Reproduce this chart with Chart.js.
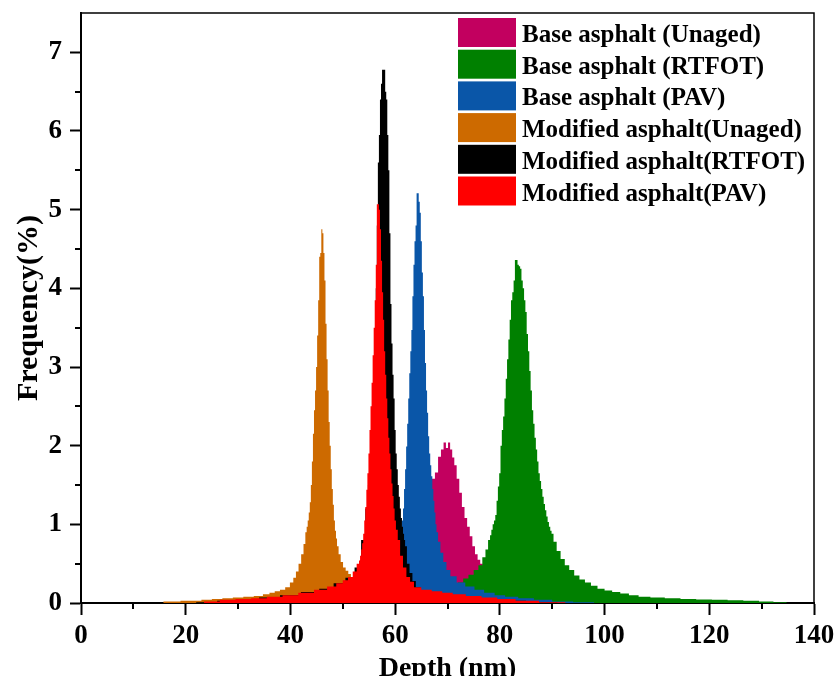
<!DOCTYPE html>
<html>
<head>
<meta charset="utf-8">
<title>Depth distribution</title>
<script src="https://cdn.jsdelivr.net/npm/chart.js@4.4.1/dist/chart.umd.min.js"></script>
<style>
  html, body { margin: 0; padding: 0; background: #fff; }
  #wrap { width: 835px; height: 676px; }
</style>
</head>
<body>
<div id="wrap"><canvas id="depthChart" width="835" height="676"></canvas></div>
<script>
// Histogram values: bin centre depth (nm) -> frequency (%)
const baseUnagedDepth = [58, 60, 62, 63.5, 65, 66, 66.7, 67.3, 67.9, 68.5, 69.0, 69.5, 69.9, 70.3, 70.7, 71.1, 71.5, 72.0, 72.5, 73.0, 73.5, 74.0, 74.5, 75.0, 75.5, 76.0, 76.5, 77, 78, 79, 80, 82, 85, 88];
const baseUnagedFreq  = [0.05, 0.12, 0.3, 0.55, 0.9, 1.2, 1.45, 1.58, 1.66, 1.86, 1.95, 2.04, 1.97, 2.04, 1.95, 1.85, 1.75, 1.58, 1.4, 1.22, 1.08, 0.97, 0.85, 0.72, 0.62, 0.55, 0.5, 0.42, 0.33, 0.26, 0.2, 0.14, 0.08, 0.04];

const baseRtfotDepth = [60, 65, 68, 70, 71.5, 72.5, 73.5, 74.5, 75.5, 76.3, 77.0, 77.5, 78.0, 78.25, 78.5, 78.75, 79.0, 79.25, 79.5, 79.75, 80.0, 80.25, 80.5, 80.75, 81.0, 81.25, 81.5, 81.75, 82.0, 82.25, 82.5, 82.75, 83.0, 83.25, 83.5, 83.75, 84.0, 84.25, 84.5, 84.75, 85.0, 85.25, 85.5, 85.75, 86.0, 86.25, 86.5, 86.75, 87.0, 87.25, 87.5, 87.75, 88.0, 88.25, 88.5, 88.75, 89.0, 89.25, 89.5, 89.75, 90.0, 90.5, 91.2, 92.0, 92.8, 93.7, 94.7, 95.7, 96.8, 98, 99.3, 100.7, 102.2, 103.8, 105.5, 107.5, 110, 113, 116, 119, 122, 125, 128, 131, 133.5];
const baseRtfotFreq  = [0.02, 0.05, 0.1, 0.15, 0.2, 0.26, 0.31, 0.36, 0.42, 0.48, 0.58, 0.68, 0.8, 0.86, 0.93, 1.0, 1.05, 1.12, 1.3, 1.48, 1.65, 2.0, 2.2, 2.37, 2.6, 2.85, 3.1, 3.35, 3.6, 3.85, 3.95, 4.1, 4.36, 4.36, 4.3, 4.28, 4.25, 4.1, 4.0, 3.85, 3.7, 3.42, 3.2, 2.95, 2.7, 2.45, 2.28, 2.1, 1.95, 1.8, 1.65, 1.55, 1.45, 1.35, 1.26, 1.18, 1.1, 1.03, 0.97, 0.92, 0.88, 0.78, 0.66, 0.56, 0.48, 0.42, 0.35, 0.3, 0.26, 0.22, 0.18, 0.16, 0.14, 0.12, 0.1, 0.08, 0.07, 0.06, 0.05, 0.045, 0.04, 0.035, 0.03, 0.02, 0.01];

const basePavDepth = [55, 57, 58.5, 59.5, 60.3, 61.0, 61.2, 61.4, 61.6, 61.8, 62.0, 62.2, 62.4, 62.6, 62.8, 63.0, 63.2, 63.4, 63.6, 63.8, 64.0, 64.2, 64.4, 64.6, 64.8, 65.0, 65.2, 65.4, 65.6, 65.8, 66.0, 66.2, 66.4, 66.6, 66.8, 67.0, 67.2, 67.4, 67.6, 67.8, 68.0, 68.4, 68.9, 69.5, 70.1, 71.0, 72.5, 74.3, 76, 78, 80, 82, 85, 88, 92, 96];
const basePavFreq  = [0.05, 0.12, 0.25, 0.4, 0.6, 0.85, 0.95, 1.05, 1.2, 1.45, 1.7, 1.99, 2.28, 2.6, 2.92, 3.2, 3.47, 3.9, 4.3, 4.6, 4.8, 5.21, 5.21, 5.1, 4.96, 4.6, 4.2, 3.9, 3.47, 3.05, 2.7, 2.42, 2.12, 1.9, 1.75, 1.61, 1.45, 1.3, 1.15, 1.0, 0.9, 0.78, 0.64, 0.52, 0.42, 0.34, 0.26, 0.21, 0.17, 0.13, 0.1, 0.08, 0.06, 0.04, 0.02, 0.01];

const modUnagedDepth = [16.5, 18, 20, 22, 24, 26, 28, 30, 32, 34, 35.5, 36.5, 37.5, 38.5, 39.5, 40.3, 40.8, 41.3, 41.8, 42.3, 42.7, 43.0, 43.2, 43.4, 43.6, 43.8, 44.0, 44.2, 44.4, 44.6, 44.8, 45.0, 45.2, 45.4, 45.6, 45.8, 46.0, 46.2, 46.4, 46.6, 46.8, 47.0, 47.2, 47.4, 47.6, 47.8, 48.0, 48.2, 48.4, 48.6, 48.8, 49.0, 49.4, 49.8, 50.3, 50.8, 51.3, 51.8, 52.5, 53.5, 54.5, 55.5];
const modUnagedFreq  = [0.02, 0.02, 0.03, 0.03, 0.04, 0.05, 0.06, 0.07, 0.08, 0.09, 0.11, 0.13, 0.15, 0.17, 0.2, 0.26, 0.32, 0.4, 0.5, 0.62, 0.75, 0.9, 0.97, 1.05, 1.15, 1.28, 1.5, 1.8, 2.15, 2.45, 2.7, 3.0, 3.4, 3.85, 4.4, 4.45, 4.75, 4.7, 4.45, 4.1, 3.55, 3.1, 2.7, 2.3, 2.0, 1.7, 1.45, 1.25, 1.05, 0.92, 0.82, 0.72, 0.62, 0.52, 0.45, 0.41, 0.37, 0.33, 0.26, 0.2, 0.15, 0.1];

const modRtfotDepth = [24, 28, 32, 36, 40, 44, 47, 49.5, 51.5, 53, 54, 54.6, 55.0, 55.2, 55.4, 55.6, 55.8, 56.0, 56.2, 56.4, 56.6, 56.8, 57.0, 57.2, 57.4, 57.6, 57.8, 58.0, 58.2, 58.4, 58.6, 58.8, 59.0, 59.2, 59.4, 59.6, 59.8, 60.0, 60.2, 60.4, 60.6, 60.8, 61.0, 61.2, 61.4, 61.6, 61.8, 62.0, 62.5, 63.0, 63.6, 64.3, 65.5, 67, 70, 74, 78, 82, 88];
const modRtfotFreq  = [0.01, 0.03, 0.05, 0.07, 0.1, 0.14, 0.18, 0.25, 0.32, 0.45, 0.8, 1.2, 1.5, 1.7, 1.9, 2.2, 2.5, 2.9, 3.4, 4.0, 4.8, 5.6, 5.95, 6.4, 6.6, 6.78, 6.78, 6.78, 6.5, 6.4, 5.95, 5.5, 4.7, 3.8, 3.3, 2.9, 2.6, 2.2, 1.9, 1.7, 1.5, 1.35, 1.2, 1.08, 0.97, 0.88, 0.8, 0.72, 0.5, 0.38, 0.28, 0.2, 0.15, 0.12, 0.1, 0.07, 0.05, 0.03, 0.01];

const modPavDepth = [25, 28, 31, 34, 37, 40, 43, 46, 48, 49.5, 50.5, 51.5, 52.3, 53.0, 53.2, 53.4, 53.6, 53.8, 54.0, 54.2, 54.4, 54.6, 54.8, 55.0, 55.2, 55.4, 55.6, 55.8, 56.0, 56.2, 56.4, 56.6, 56.8, 57.0, 57.2, 57.4, 57.6, 57.8, 58.0, 58.2, 58.4, 58.6, 58.8, 59.0, 59.2, 59.4, 59.6, 59.8, 60.0, 60.3, 60.7, 61.2, 61.8, 62.5, 63.2, 64, 66, 68, 70, 72, 75, 78, 81, 85, 90];
const modPavFreq  = [0.02, 0.04, 0.05, 0.06, 0.08, 0.1, 0.13, 0.17, 0.21, 0.25, 0.29, 0.33, 0.4, 0.5, 0.54, 0.6, 0.68, 0.76, 0.88, 1.05, 1.22, 1.44, 1.65, 1.9, 2.2, 2.5, 2.8, 3.15, 3.5, 3.85, 4.3, 5.07, 5.07, 5.0, 4.75, 4.35, 3.95, 3.6, 3.2, 2.9, 2.6, 2.35, 2.1, 1.9, 1.7, 1.52, 1.36, 1.2, 1.05, 0.93, 0.8, 0.6, 0.45, 0.33, 0.27, 0.2, 0.17, 0.15, 0.13, 0.11, 0.09, 0.07, 0.05, 0.03, 0.01];

const seriesLabels = [
  "Base asphalt (Unaged)",
  "Base asphalt (RTFOT)",
  "Base asphalt (PAV)",
  "Modified asphalt(Unaged)",
  "Modified asphalt(RTFOT)",
  "Modified asphalt(PAV)"
];
const seriesColors = ["#c2005f", "#008000", "#0a56a8", "#cd6a00", "#000000", "#ff0000"];

const xTickValues = [0, 20, 40, 60, 80, 100, 120, 140];
const xMinorTicks = [10, 30, 50, 70, 90, 110, 130];
const yTickValues = [0, 1, 2, 3, 4, 5, 6, 7];
const yMinorTicks = [0.5, 1.5, 2.5, 3.5, 4.5, 5.5, 6.5];

const SERIF = "'Liberation Serif', 'Times New Roman', serif";

// histogram outline: each bin spans halfway to its neighbours, closed on the baseline
function toOutline(depth, freq) {
  const n = depth.length;
  const pts = [];
  depth.forEach((d, i) => {
    const lo = i === 0 ? d - (depth[1] - d) / 2 : (depth[i - 1] + d) / 2;
    const hi = i === n - 1 ? d + (d - depth[n - 2]) / 2 : (d + depth[i + 1]) / 2;
    if (i === 0) pts.push({ x: lo, y: 0 });
    pts.push({ x: lo, y: freq[i] }, { x: hi, y: freq[i] });
    if (i === n - 1) pts.push({ x: hi, y: 0 });
  });
  return pts;
}

const seriesData = [
  toOutline(baseUnagedDepth, baseUnagedFreq),
  toOutline(baseRtfotDepth, baseRtfotFreq),
  toOutline(basePavDepth, basePavFreq),
  toOutline(modUnagedDepth, modUnagedFreq),
  toOutline(modRtfotDepth, modRtfotFreq),
  toOutline(modPavDepth, modPavFreq)
];

// top/right frame, minor ticks and the legend inside the plot
const frameAndLegend = {
  id: "frameAndLegend",
  afterDraw(chart) {
    const { ctx, chartArea: a } = chart;
    const xs = chart.scales.x, ys = chart.scales.y;
    ctx.save();
    ctx.strokeStyle = "#000";
    ctx.lineWidth = 1.5;
    ctx.beginPath();
    ctx.moveTo(a.left, a.top);
    ctx.lineTo(a.right, a.top);
    ctx.lineTo(a.right, a.bottom);
    ctx.stroke();

    ctx.lineWidth = 2;
    ctx.beginPath();
    xMinorTicks.forEach(v => {
      const px = Math.round(xs.getPixelForValue(v));
      ctx.moveTo(px, a.bottom);
      ctx.lineTo(px, a.bottom + 6);
    });
    yMinorTicks.forEach(v => {
      const py = Math.round(ys.getPixelForValue(v));
      ctx.moveTo(a.left, py);
      ctx.lineTo(a.left - 6, py);
    });
    ctx.stroke();

    ctx.font = "bold 25px " + SERIF;
    ctx.textBaseline = "alphabetic";
    ctx.textAlign = "left";
    chart.data.datasets.forEach((ds, i) => {
      const top = 18 + i * 31.7;
      ctx.fillStyle = ds.backgroundColor;
      ctx.fillRect(458, top, 58, 29);
      ctx.fillStyle = "#000";
      ctx.fillText(ds.label, 522, top + 24);
    });
    ctx.restore();
  }
};

new Chart(document.getElementById("depthChart"), {
  type: "line",
  data: {
    datasets: seriesData.map((pts, i) => ({
      label: seriesLabels[i],
      data: pts,
      fill: "shape",
      backgroundColor: seriesColors[i],
      borderColor: seriesColors[i],
      borderWidth: 0,
      pointRadius: 0,
      tension: 0,
      order: seriesLabels.length - i   // later series drawn on top
    }))
  },
  options: {
    responsive: false,
    animation: false,
    devicePixelRatio: 1,
    layout: { padding: { top: 13, right: 21, left: 0, bottom: 0 } },
    plugins: {
      legend: { display: false },
      tooltip: { enabled: false }
    },
    scales: {
      x: {
        type: "linear",
        min: 0,
        max: 140,
        afterFit: s => { s.height = 73; s.paddingLeft = 0; s.paddingRight = 0; },
        afterBuildTicks: s => { s.ticks = xTickValues.map(v => ({ value: v })); },
        grid: { drawOnChartArea: false, drawTicks: true, tickLength: 12, tickWidth: 2, color: "#000", tickColor: "#000" },
        border: { display: true, color: "#000", width: 2 },
        ticks: { color: "#000", padding: 5, maxRotation: 0, autoSkip: false, font: { family: SERIF, size: 27, weight: "bold" } },
        title: { display: true, text: "Depth (nm)", color: "#000", padding: { top: 0, bottom: -10 }, font: { family: SERIF, size: 28, weight: "bold" } }
      },
      y: {
        min: 0,
        max: 7.5,
        afterFit: s => { s.width = 81; s.paddingTop = 0; s.paddingBottom = 0; },
        afterBuildTicks: s => { s.ticks = yTickValues.map(v => ({ value: v })); },
        grid: { drawOnChartArea: false, drawTicks: true, tickLength: 11, tickWidth: 2, color: "#000", tickColor: "#000" },
        border: { display: true, color: "#000", width: 2 },
        ticks: { color: "#000", padding: 8, font: { family: SERIF, size: 27, weight: "bold" } },
        title: { display: true, text: "Frequency(%)", color: "#000", padding: { top: 11, bottom: 0 }, font: { family: SERIF, size: 30, weight: "bold" } }
      }
    }
  },
  plugins: [frameAndLegend]
});
</script>
</body>
</html>
